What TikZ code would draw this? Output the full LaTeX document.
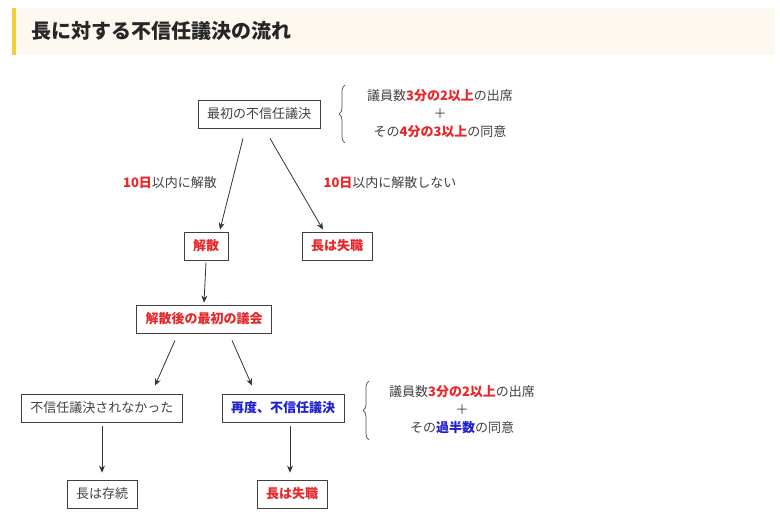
\documentclass[tikz,border=0pt]{standalone}
\usepackage{fontspec}
\setmainfont{Noto Sans CJK JP}
\usetikzlibrary{positioning,decorations.pathreplacing,arrows.meta}
\definecolor{hlred}{HTML}{E8262A}
\definecolor{hlblue}{HTML}{2020D0}
\definecolor{txtgray}{HTML}{404040}
\definecolor{titlebg}{HTML}{FDF9F0}
\definecolor{titlebar}{HTML}{F5CE3A}
\newcommand{\rd}[1]{\textcolor{hlred}{\bfseries #1}}
\newcommand{\bl}[1]{\textcolor{hlblue}{\bfseries #1}}

\begin{document}
\begin{tikzpicture}[
    x=1pt, y=-1pt,
    box/.style={%
      draw=black!75,
      rectangle,
      line width=0.8pt,
      text=txtgray,
      font=\fontsize{13}{15}\selectfont,
      minimum height=28pt,
      inner xsep=9pt,
    },
    lbl/.style={%
      text=txtgray,
      font=\fontsize{13}{15}\selectfont,
    },
    cond/.style={%
      text=txtgray,
      align=center,
      font=\fontsize{13}{18}\selectfont,
    },
    arr/.style={%
      -{Stealth[length=7pt,width=6pt]},
      line width=0.8pt,
      black!80,
    },
    brc/.style={%
      decorate,
      decoration={brace,amplitude=6pt,mirror},
      line width=0.7pt,
      black!70,
    },
  ]

    \useasboundingbox (0,0) rectangle (780,520);
    % title band
    \fill [titlebg] (12,8) rectangle (775,55);
    \fill [titlebar] (12,8) rectangle (16,55);
    \node [anchor=west, font=\fontsize{20}{24}\selectfont\bfseries, text=black!85] (title) at (28,31) {長に対する不信任議決の流れ};

    \node [box] (first) at (259,114) {最初の不信任議決};
    \node [box] (dissolve) at (206,246) {\rd{解散}};
    \node [box] (lose1) at (337,246) {\rd{長は失職}};
    \node [box] (session) at (204,319) {\rd{解散後の最初の議会}};
    \node [box] (nopass) at (102,408) {不信任議決されなかった};
    \node [box] (again) at (283,408) {\bl{再度、不信任議決}};
    \node [box] (stay) at (102,494) {長は存続};
    \node [box] (lose2) at (292,494) {\rd{長は失職}};

    % conditions
    \draw [brc] (345,85) -- (345,143);
    \node [cond] (cond1) at (440,114) {議員数\rd{3分の2以上}の出席\\＋\\その\rd{4分の3以上}の同意};
    \draw [brc] (369,381) -- (369,440);
    \node [cond] (cond2) at (462,410) {議員数\rd{3分の2以上}の出席\\＋\\その\bl{過半数}の同意};

    % arrows
    \draw [arr] ([xshift=-16pt,yshift=-10pt]first.south) -- ([xshift=14pt,yshift=2pt]dissolve.north);
    \draw [arr] ([xshift=11pt,yshift=-10pt]first.south) -- ([xshift=-14pt,yshift=2pt]lose1.north);
    \node [lbl] (lbl1) at (170,183) {\rd{10日}以内に解散};
    \node [lbl] (lbl2) at (390,183) {\rd{10日}以内に解散しない};
    \draw [arr] ([yshift=-2pt]dissolve.south) -- ([yshift=2pt]session.north);
    \draw [arr] ([xshift=-29pt,yshift=-7pt]session.south) -- ([xshift=53pt,yshift=8pt]nopass.north);
    \draw [arr] ([xshift=28pt,yshift=-7pt]session.south) -- ([xshift=-31pt,yshift=8pt]again.north);
    \draw [arr] ([yshift=-4pt]nopass.south) -- ([yshift=7pt]stay.north);
    \draw [arr] ([xshift=7pt,yshift=-4pt]again.south) -- ([xshift=-2pt,yshift=7pt]lose2.north);
\end{tikzpicture}
\end{document}
